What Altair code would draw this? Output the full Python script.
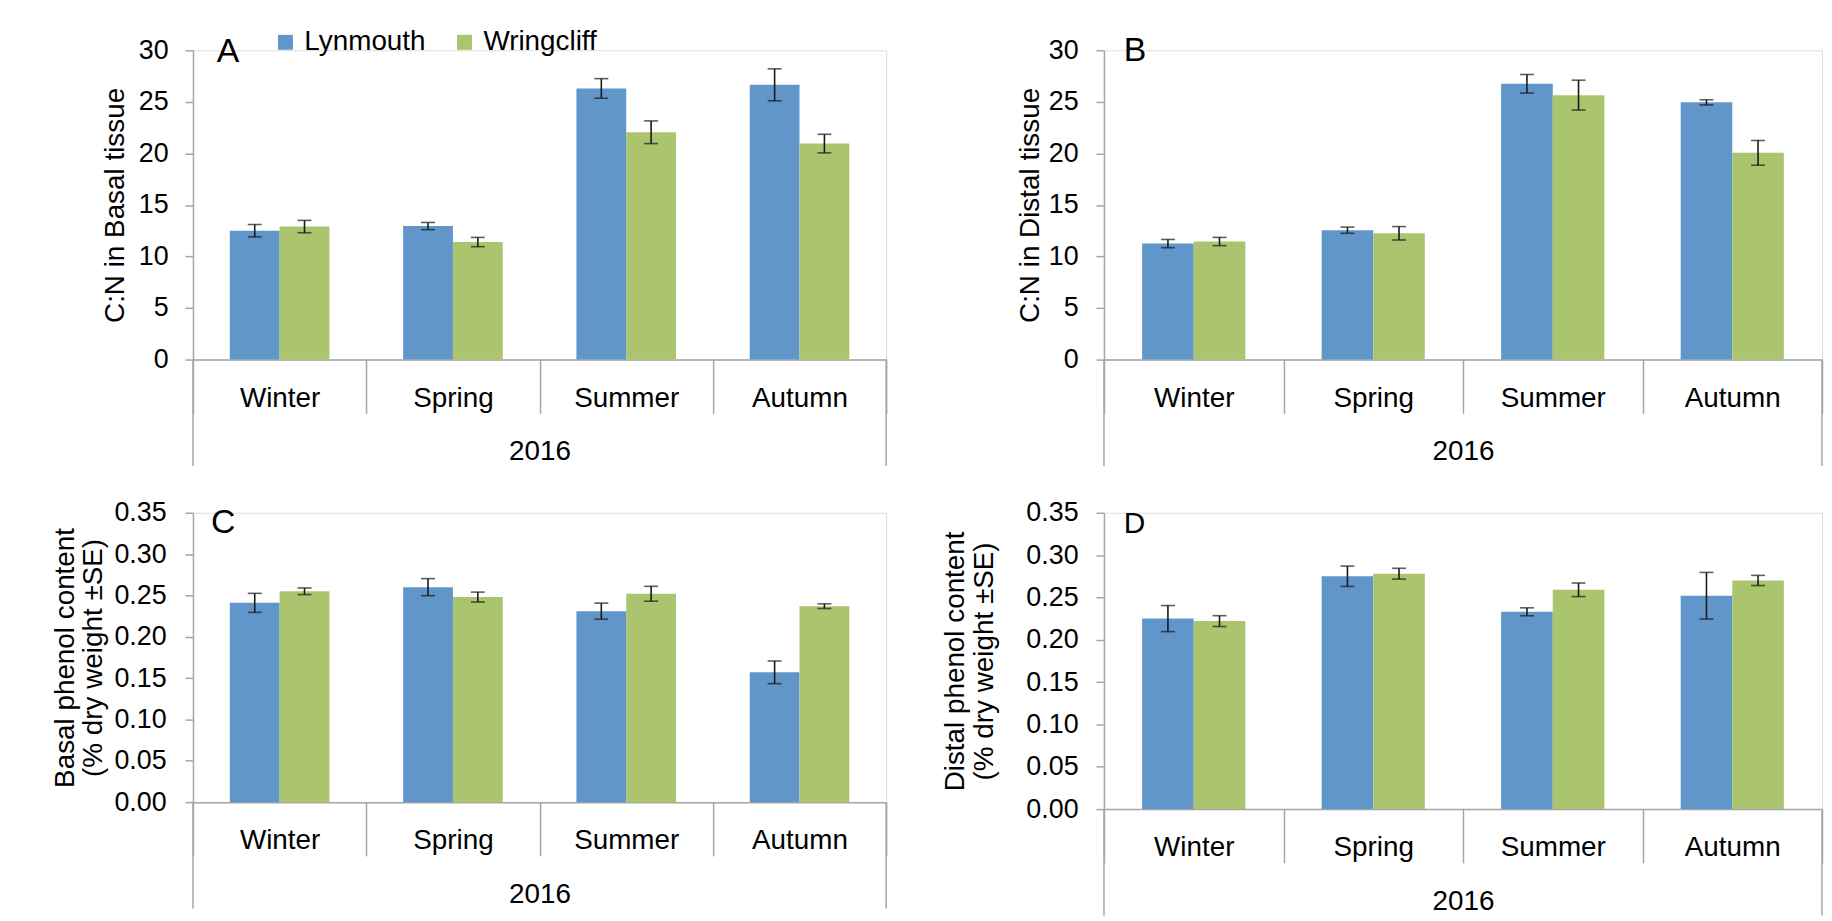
import altair as alt
import pandas as pd

seasons = ["Winter", "Spring", "Summer", "Autumn"]
sites = ["Lynmouth", "Wringcliff"]

# Panel A: C:N basal tissue
basal_cn_lyn = [12.5, 12.95, 26.3, 26.65]
basal_cn_lyn_se = [0.6, 0.35, 0.95, 1.55]
basal_cn_wri = [12.9, 11.4, 22.05, 20.95]
basal_cn_wri_se = [0.6, 0.45, 1.1, 0.9]

# Panel B: C:N distal tissue
distal_cn_lyn = [11.25, 12.55, 26.75, 24.95]
distal_cn_lyn_se = [0.4, 0.3, 0.9, 0.25]
distal_cn_wri = [11.45, 12.25, 25.65, 20.05]
distal_cn_wri_se = [0.4, 0.65, 1.45, 1.2]

# Panel C: basal phenol content
basal_ph_lyn = [0.241, 0.260, 0.231, 0.157]
basal_ph_lyn_se = [0.0115, 0.0103, 0.0097, 0.0137]
basal_ph_wri = [0.255, 0.248, 0.252, 0.237]
basal_ph_wri_se = [0.004, 0.006, 0.009, 0.0028]

# Panel D: distal phenol content
distal_ph_lyn = [0.225, 0.275, 0.233, 0.252]
distal_ph_lyn_se = [0.0154, 0.012, 0.0047, 0.0275]
distal_ph_wri = [0.222, 0.278, 0.259, 0.270]
distal_ph_wri_se = [0.0064, 0.0064, 0.008, 0.006]

cn_ticks = [0, 5, 10, 15, 20, 25, 30]
ph_ticks = [0.0, 0.05, 0.10, 0.15, 0.20, 0.25, 0.30, 0.35]

BLUE = "#6196CA"
GREEN = "#AAC56E"
GRAY = "#a6a6a6"
FONT = "Liberation Sans"


def make_df(lyn, lyn_se, wri, wri_se):
    rows = []
    for site, vals, ses in [("Lynmouth", lyn, lyn_se), ("Wringcliff", wri, wri_se)]:
        for s, v, e in zip(seasons, vals, ses):
            rows.append({"season": s, "site": site, "value": v, "lo": v - e, "hi": v + e})
    return pd.DataFrame(rows)


def panel(letter, lyn, lyn_se, wri, wri_se, ytitle, yticks, fmt, width, height,
          lab_pad, title_pad, letter_x, letter_y, letter_size, legend=None):
    df = make_df(lyn, lyn_se, wri, wri_se)
    x_axis = alt.Axis(title="2016", tickBand="extent", tickSize=54, tickColor=GRAY,
                      tickWidth=1.5, domainColor=GRAY, domainWidth=1.5, labelAngle=0,
                      labelFontSize=28, labelFont=FONT, labelColor="black",
                      labelPadding=-29, titleFontSize=28, titleFont=FONT,
                      titleFontWeight="normal", titleColor="black", titlePadding=24,
                      labelOverlap=False)
    x = alt.X("season:N", sort=seasons,
              scale=alt.Scale(paddingInner=0, paddingOuter=0), axis=x_axis)
    xo = alt.XOffset("site:N", sort=sites,
                     scale=alt.Scale(paddingOuter=0.74, paddingInner=0))
    y_axis = alt.Axis(values=yticks, format=fmt, title=ytitle, grid=False, tickSize=8,
                      tickColor=GRAY, tickWidth=1.5, domainColor=GRAY, domainWidth=1.5,
                      labelFontSize=27, labelFont=FONT, labelColor="black",
                      labelPadding=lab_pad, titleFontSize=28, titleFont=FONT,
                      titleFontWeight="normal", titleColor="black",
                      titlePadding=title_pad, titleLineHeight=29)
    yscale = alt.Scale(domain=[0, yticks[-1]], nice=False)

    if legend is None:
        color = alt.Color("site:N", sort=sites,
                          scale=alt.Scale(domain=sites, range=[BLUE, GREEN]), legend=None)
    else:
        color = alt.Color("site:N", sort=sites,
                          scale=alt.Scale(domain=sites, range=[BLUE, GREEN]), legend=legend)

    bars = alt.Chart(df).mark_bar().encode(
        x=x, xOffset=xo,
        y=alt.Y("value:Q", scale=yscale, axis=y_axis),
        color=color,
    )
    rule = alt.Chart(df).mark_rule(color="#1a1a1a", strokeWidth=1.6).encode(
        x=x, xOffset=xo,
        y=alt.Y("lo:Q", scale=yscale, axis=y_axis), y2="hi:Q",
    )
    cap_lo = alt.Chart(df).mark_tick(color="#1a1a1a", size=14, thickness=1.6).encode(
        x=x, xOffset=xo, y=alt.Y("lo:Q", scale=yscale, axis=y_axis),
    )
    cap_hi = alt.Chart(df).mark_tick(color="#1a1a1a", size=14, thickness=1.6).encode(
        x=x, xOffset=xo, y=alt.Y("hi:Q", scale=yscale, axis=y_axis),
    )
    one = pd.DataFrame({"label": [letter]})
    box_l = alt.Chart(one).mark_rule(color=GRAY, strokeWidth=1.5).encode(
        x=alt.value(0), y=alt.value(height), y2=alt.value(height + 107))
    box_r = alt.Chart(one).mark_rule(color=GRAY, strokeWidth=1.5).encode(
        x=alt.value(width), y=alt.value(height), y2=alt.value(height + 107))
    letter_mark = alt.Chart(one).mark_text(
        align="left", baseline="alphabetic", fontSize=letter_size, font=FONT, color="black"
    ).encode(x=alt.value(letter_x), y=alt.value(letter_y), text="label:N")

    return alt.layer(bars, rule, cap_lo, cap_hi, box_l, box_r, letter_mark).properties(
        width=width, height=height)


legend_a = alt.Legend(orient="none", legendX=79, legendY=-22, direction="horizontal",
                      title=None, symbolType="square", symbolSize=225,
                      symbolStrokeWidth=0, symbolOpacity=1, labelFontSize=28,
                      labelFont=FONT, labelColor="black", labelOffset=5,
                      columnPadding=25, padding=0)

pa = panel("A", basal_cn_lyn, basal_cn_lyn_se, basal_cn_wri, basal_cn_wri_se,
           "C:N in Basal tissue", cn_ticks, "d", 697, 311, 17, 9, 24, 12, 34, legend_a)
pb = panel("B", distal_cn_lyn, distal_cn_lyn_se, distal_cn_wri, distal_cn_wri_se,
           "C:N in Distal tissue", cn_ticks, "d", 722, 311, 18, 4, 20, 11, 34)
pc = panel("C", basal_ph_lyn, basal_ph_lyn_se, basal_ph_wri, basal_ph_wri_se,
           ["Basal phenol content", "(% dry weight ±SE)"], ph_ticks, ".2f", 697, 291,
           19, 6, 18, 20, 34)
pd_ = panel("D", distal_ph_lyn, distal_ph_lyn_se, distal_ph_wri, distal_ph_wri_se,
            ["Distal phenol content", "(% dry weight ±SE)"], ph_ticks, ".2f", 722, 298,
            18, 28, 20, 20, 30)

chart = alt.concat(pa, pb, pc, pd_, columns=2).properties(
    spacing={"row": 154, "column": 219},
    bounds="flush",
    padding={"left": 42, "top": 17, "right": 0, "bottom": 0},
).resolve_scale(
    x="independent", y="independent", xOffset="independent", color="shared"
).resolve_legend(color="independent").configure_view(strokeWidth=0).configure(
    background="white"
)

chart.save("out.html", embed_options={"renderer": "svg", "actions": False})
